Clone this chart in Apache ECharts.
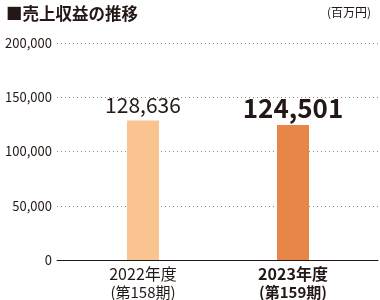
<!DOCTYPE html>
<html><head><meta charset="utf-8">
<script src="https://cdn.jsdelivr.net/npm/echarts@6/dist/echarts.min.js"></script>
<style>html,body{margin:0;padding:0;background:#fff}#c{width:380px;height:300px}</style>
</head><body><div id="c"></div>
<script>
const years = ['2022年度', '2023年度'];
const periods = ['(第158期)', '(第159期)'];
const revenue = [128636, 124501];
const yTicks = [0, 50000, 100000, 150000, 200000];
const barColors = ['#F9C48F', '#E8864A'];

const FONT = '"Noto Sans CJK JP", "Noto Sans", sans-serif';
const chart = echarts.init(document.getElementById('c'), null, {renderer: 'canvas'});
const fmt = v => v.toLocaleString('en-US');
chart.setOption({
  animation: false,
  textStyle: {fontFamily: FONT},
  title: [
    {text: '■売上収益の推移', left: 1, top: 0, textStyle: {fontSize: 16.5, fontWeight: 'bold', color: '#231815', fontFamily: FONT}},
    {text: '(百万円)', right: 4, top: 1, textStyle: {fontSize: 12, fontWeight: 'normal', color: '#231815', fontFamily: FONT}}
  ],
  grid: [
    {left: 57, right: 2, top: 43, height: 217},
    {left: 68, width: 300, top: 43, height: 217}
  ],
  xAxis: [
    {gridIndex: 0, type: 'category', data: ['a'], axisLine: {lineStyle: {color: '#231815', width: 1}}, axisTick: {show: false}, axisLabel: {show: false}},
    {gridIndex: 1, type: 'category', data: years, axisLine: {show: false}, axisTick: {show: false},
     axisLabel: {margin: 4, interval: 0,
       formatter: (v, i) => i === 1 ? '{b|' + v + '}\n{bs|' + periods[i] + '}' : '{a|' + v + '}\n{as|' + periods[i] + '}',
       rich: {
         a: {fontSize: 16, color: '#231815', fontFamily: FONT, lineHeight: 19},
         as: {fontSize: 15, color: '#231815', fontFamily: FONT, lineHeight: 19},
         b: {fontSize: 16, fontWeight: 'bold', color: '#231815', fontFamily: FONT, lineHeight: 19},
         bs: {fontSize: 15, fontWeight: 'bold', color: '#231815', fontFamily: FONT, lineHeight: 19}
       }}}
  ],
  yAxis: [
    {gridIndex: 0, type: 'value', min: yTicks[0], max: yTicks[yTicks.length - 1], interval: 50000,
     axisLine: {show: false}, axisTick: {show: false},
     axisLabel: {margin: 5, fontSize: 13, color: '#231815', fontFamily: FONT, formatter: v => fmt(v)},
     splitLine: {show: true, lineStyle: {color: '#8c8c8c', type: [1, 3], width: 1}}},
    {gridIndex: 1, type: 'value', min: yTicks[0], max: yTicks[yTicks.length - 1], interval: 50000,
     axisLine: {show: false}, axisTick: {show: false}, axisLabel: {show: false}, splitLine: {show: false}}
  ],
  series: [{
    type: 'bar', xAxisIndex: 1, yAxisIndex: 1, barWidth: 32,
    data: revenue.map((v, i) => ({value: v, itemStyle: {color: barColors[i]},
      label: i === 1 ? {fontSize: 26, fontWeight: 'bold', distance: 4} : {fontSize: 21, fontWeight: 'normal', distance: 5}})),
    label: {show: true, position: 'top', color: '#231815', fontFamily: FONT, formatter: p => fmt(p.value)}
  }]
});
</script></body></html>
